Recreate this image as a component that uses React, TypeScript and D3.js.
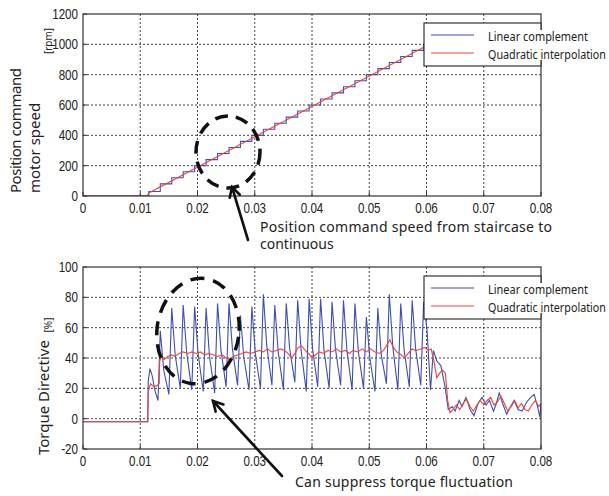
import React from 'react';
import * as d3 from 'd3';

// time axis (s)
const timeTicks = [0, 0.01, 0.02, 0.03, 0.04, 0.05, 0.06, 0.07, 0.08];
const timeLabels = ['0', '0.01', '0.02', '0.03', '0.04', '0.05', '0.06', '0.07', '0.08'];
const speedTicks = [0, 200, 400, 600, 800, 1000, 1200];
const torqueTicks = [-20, 0, 20, 40, 60, 80, 100];
const seriesNames = ['Linear complement', 'Quadratic interpolation'];

// speed command, linear complement = staircase (held value from each time)
const speedStepT = [0, 0.0115, 0.0135, 0.0155, 0.0175, 0.0195, 0.0215, 0.0235, 0.0255, 0.0275, 0.0295,
  0.0315, 0.0335, 0.0355, 0.0375, 0.0395, 0.0415, 0.0435, 0.0455, 0.0475, 0.0495,
  0.0515, 0.0535, 0.0555, 0.0575, 0.0595, 0.0615, 0.08];
const speedStepV = [0, 30, 80, 120, 160, 200, 240, 280, 320, 360, 400,
  440, 480, 520, 560, 600, 640, 680, 720, 760, 800,
  840, 880, 920, 960, 1000, 1000, 1000];

// speed command, quadratic interpolation = continuous ramp
const speedQuadT = [0, 0.0112, 0.0115, 0.0605, 0.08];
const speedQuadV = [0, 0, 20, 1000, 1000];

// torque directive [%], linear complement
const torqueLinear: [number, number][] = [
  [0, -2], [0.0113, -2], [0.0114, 25], [0.0117, 33], [0.0121, 28], [0.0126, 18], [0.0131, 12],
  [0.0135, 58], [0.0141, 32], [0.015, 16],
  [0.0155, 73], [0.0161, 42], [0.017, 20],
  [0.0175, 75], [0.0181, 44], [0.019, 19],
  [0.0195, 74], [0.0201, 43], [0.021, 18],
  [0.0215, 73], [0.0221, 41], [0.023, 17],
  [0.0235, 76], [0.0241, 45], [0.025, 21],
  [0.0255, 76], [0.0261, 46], [0.027, 22],
  [0.0275, 68], [0.0281, 40], [0.029, 19],
  [0.0295, 74], [0.0301, 43], [0.031, 20],
  [0.0315, 82], [0.0321, 48], [0.033, 22],
  [0.0335, 75], [0.0341, 44], [0.035, 19],
  [0.0355, 76], [0.0361, 46], [0.037, 24],
  [0.0375, 78], [0.0381, 45], [0.039, 18],
  [0.0395, 79], [0.0401, 46], [0.041, 21],
  [0.0415, 79], [0.0421, 45], [0.043, 20],
  [0.0435, 77], [0.0441, 46], [0.045, 22],
  [0.0455, 78], [0.0461, 45], [0.047, 19],
  [0.0475, 76], [0.0481, 44], [0.049, 20],
  [0.0495, 67], [0.0501, 40], [0.051, 18],
  [0.0515, 73], [0.0521, 42], [0.053, 23],
  [0.0535, 82], [0.0541, 48], [0.055, 19],
  [0.0555, 76], [0.0561, 45], [0.057, 21],
  [0.0575, 78], [0.0581, 46], [0.059, 22],
  [0.0595, 77], [0.0601, 58], [0.0607, 19], [0.0612, 45], [0.0618, 38], [0.0625, 35],
  [0.0632, 22], [0.0638, 6], [0.0645, 8], [0.065, 5], [0.0657, 12], [0.0662, 8], [0.0669, 14],
  [0.0676, 6], [0.0683, 2], [0.069, 10], [0.0697, 14], [0.0704, 9], [0.071, 12], [0.0717, 5],
  [0.0722, 10], [0.0727, 17], [0.0733, 10], [0.074, 3], [0.0747, 8], [0.0753, 12], [0.076, 6],
  [0.0767, 5], [0.0775, 11], [0.0782, 14], [0.0788, 16], [0.0794, 8], [0.0798, 1], [0.08, 10],
];

// torque directive [%], quadratic interpolation
const torqueQuad: [number, number][] = [
  [0, -2], [0.0113, -2], [0.0114, 18], [0.0118, 23], [0.0124, 21], [0.013, 22], [0.0133, 23],
  [0.0134, 38], [0.0137, 41], [0.0142, 39], [0.0148, 41], [0.0155, 42], [0.016, 41], [0.0168, 43],
  [0.0175, 44], [0.0183, 43], [0.019, 44], [0.0198, 43], [0.0205, 44], [0.0213, 42], [0.022, 43],
  [0.0228, 42], [0.0235, 41], [0.0243, 42], [0.025, 40], [0.0256, 39], [0.0262, 41], [0.027, 42],
  [0.0278, 43], [0.0285, 44], [0.0293, 43], [0.03, 44], [0.0308, 45], [0.0315, 44], [0.0322, 46],
  [0.033, 44], [0.0338, 45], [0.0345, 46], [0.0352, 45], [0.0358, 43], [0.0364, 40], [0.037, 43],
  [0.0376, 47], [0.0382, 48], [0.0388, 45], [0.0394, 43], [0.04, 40], [0.0406, 42], [0.0413, 44],
  [0.042, 43], [0.0428, 45], [0.0435, 44], [0.0443, 46], [0.045, 44], [0.0458, 45], [0.0465, 43],
  [0.0472, 45], [0.048, 44], [0.0488, 46], [0.0495, 44], [0.0502, 46], [0.051, 44], [0.0518, 43],
  [0.0525, 45], [0.053, 48], [0.0536, 52], [0.0542, 47], [0.0548, 44], [0.0556, 42], [0.0562, 40],
  [0.0568, 43], [0.0575, 46], [0.0582, 45], [0.059, 46], [0.0597, 47], [0.0603, 45], [0.0608, 46],
  [0.0613, 38], [0.0618, 27], [0.0623, 30], [0.0628, 32], [0.0633, 30], [0.0637, 12], [0.0641, 4],
  [0.0646, 6], [0.0652, 9], [0.0658, 6], [0.0664, 10], [0.067, 13], [0.0676, 8], [0.0682, 5],
  [0.0688, 9], [0.0694, 12], [0.07, 9], [0.0706, 12], [0.0712, 14], [0.0718, 9], [0.0724, 11],
  [0.073, 15], [0.0736, 10], [0.0742, 5], [0.0748, 8], [0.0754, 12], [0.076, 7], [0.0766, 10],
  [0.0772, 6], [0.0778, 5], [0.0784, 9], [0.079, 12], [0.0796, 8], [0.08, 10],
];

const BLUE = '#3e4fae';
const RED = '#e8463c';
const GRID = '#444';
const TICK_FONT = '"Liberation Sans", Arial, sans-serif';
const TEXT_FONT = '"Noto Sans", "Open Sans", sans-serif';

const LEFT = 83;
const RIGHT = 541;

type Pt = [number, number];

// narrow tick label (the original uses a condensed face)
const TickText = ({ x, y, anchor, children }: { x: number; y: number; anchor: string; children: React.ReactNode }) => (
  <text transform={`translate(${x},${y}) scale(0.8,1)`} textAnchor={anchor}
    fontFamily={TICK_FONT} fontSize={14.5} fill="#222">{children}</text>
);

const Panel = ({ id, top, bottom, yDomain, yTicks, blue, red, blueStep, legendTop }: {
  id: string; top: number; bottom: number; yDomain: [number, number]; yTicks: number[];
  blue: Pt[]; red: Pt[]; blueStep: boolean; legendTop: number;
}) => {
  const x = d3.scaleLinear().domain([0, 0.08]).range([LEFT, RIGHT]);
  const y = d3.scaleLinear().domain(yDomain).range([bottom, top]);
  const line = d3.line<Pt>().x(d => x(d[0])).y(d => y(d[1]));
  const stepLine = d3.line<Pt>().x(d => x(d[0])).y(d => y(d[1])).curve(d3.curveStepAfter);

  const lx = 424, lw = RIGHT - lx, lh = 43;

  return (
    <g>
      <defs>
        <clipPath id={`clip-${id}`}>
          <rect x={LEFT} y={top} width={RIGHT - LEFT} height={bottom - top} />
        </clipPath>
      </defs>
      {/* grid */}
      {timeTicks.slice(1, -1).map(t => (
        <line key={`gx${t}`} x1={x(t)} x2={x(t)} y1={top} y2={bottom}
          stroke={GRID} strokeWidth={1} strokeDasharray="2,2" />
      ))}
      {yTicks.slice(1, -1).map(v => (
        <line key={`gy${v}`} x1={LEFT} x2={RIGHT} y1={y(v)} y2={y(v)}
          stroke={GRID} strokeWidth={1} strokeDasharray="2,2" />
      ))}
      {/* series */}
      <g clipPath={`url(#clip-${id})`}>
        <path d={(blueStep ? stepLine : line)(blue) || ''} fill="none" stroke={BLUE} strokeWidth={1.1} />
        <path d={line(red) || ''} fill="none" stroke={RED} strokeWidth={1.1} />
      </g>
      {/* frame + ticks */}
      <rect x={LEFT} y={top} width={RIGHT - LEFT} height={bottom - top} fill="none" stroke="#333" strokeWidth={1.2} />
      {timeTicks.map(t => (
        <line key={`tx${t}`} x1={x(t)} x2={x(t)} y1={bottom} y2={bottom - 4} stroke="#333" />
      ))}
      {yTicks.map(v => (
        <line key={`ty${v}`} x1={LEFT} x2={LEFT + 4} y1={y(v)} y2={y(v)} stroke="#333" />
      ))}
      {timeTicks.map((t, i) => (
        <TickText key={`lx${t}`} x={x(t)} y={bottom + 17} anchor="middle">{timeLabels[i]}</TickText>
      ))}
      {yTicks.map(v => (
        <TickText key={`ly${v}`} x={LEFT - 5} y={y(v) + 5} anchor="end">{v}</TickText>
      ))}
      {/* legend */}
      <rect x={lx} y={legendTop} width={lw} height={lh} fill="#fff" stroke="#222" strokeWidth={1.1} />
      <rect x={486} y={legendTop + 7} width={123} height={30} fill="#fff" />
      {seriesNames.map((name, i) => {
        const ly = legendTop + 12 + i * 18;
        return (
          <g key={name}>
            <line x1={431} x2={474} y1={ly} y2={ly} stroke={i === 0 ? BLUE : RED} strokeWidth={1.2} />
            <text x={488} y={ly + 6} fontFamily={TEXT_FONT} fontSize={12} fill="#222"
              textLength={i === 0 ? 100 : 118} lengthAdjust="spacingAndGlyphs">{name}</text>
          </g>
        );
      })}
    </g>
  );
};

const Arrow = ({ tip, tail }: { tip: Pt; tail: Pt }) => {
  const ang = Math.atan2(tail[1] - tip[1], tail[0] - tip[0]);
  const len = 11, spread = 0.5;
  const a = [tip[0] + len * Math.cos(ang - spread), tip[1] + len * Math.sin(ang - spread)];
  const b = [tip[0] + len * Math.cos(ang + spread), tip[1] + len * Math.sin(ang + spread)];
  return (
    <g stroke="#111" strokeWidth={2.6} fill="none" strokeLinecap="round">
      <line x1={tail[0]} y1={tail[1]} x2={tip[0]} y2={tip[1]} />
      <polyline points={`${a[0]},${a[1]} ${tip[0]},${tip[1]} ${b[0]},${b[1]}`} />
    </g>
  );
};

export default function App() {
  return (
    <svg width={609} height={496} style={{ position: 'absolute', left: 0, top: 0, background: '#fff' }}>
      <rect width={609} height={496} fill="#fff" />
      <Panel id="speed" top={14} bottom={196} yDomain={[0, 1200]} yTicks={speedTicks}
        blue={speedStepT.map((t, i) => [t, speedStepV[i]] as Pt)}
        red={speedQuadT.map((t, i) => [t, speedQuadV[i]] as Pt)}
        blueStep={true} legendTop={23} />
      <Panel id="torque" top={267} bottom={449} yDomain={[-20, 100]} yTicks={torqueTicks}
        blue={torqueLinear} red={torqueQuad} blueStep={false} legendTop={276} />

      {/* y axis titles */}
      <text transform="translate(21,193) rotate(-90)" fontFamily={TEXT_FONT} fontSize={15} fill="#222" textLength={125}>Position command</text>
      <text transform="translate(40,193) rotate(-90)" fontFamily={TEXT_FONT} fontSize={15} fill="#222">motor speed</text>
      <text transform="translate(52,41) rotate(-90)" textAnchor="middle" fontFamily={TEXT_FONT} fontSize={10} fill="#222">[rpm]</text>
      <text transform="translate(49,455) rotate(-90)" fontFamily={TEXT_FONT} fontSize={15} fill="#222">Torque Directive</text>
      <text transform="translate(52,325) rotate(-90)" textAnchor="middle" fontFamily={TEXT_FONT} fontSize={10} fill="#222">[%]</text>

      {/* annotations */}
      <ellipse cx={228} cy={152} rx={32} ry={36} fill="none" stroke="#111" strokeWidth={3.5} strokeDasharray="13,8" />
      <Arrow tip={[232, 187]} tail={[248, 240]} />
      <text x={260} y={232} fontFamily={TEXT_FONT} fontSize={14} fill="#222" textLength={292}>Position command speed from staircase to</text>
      <text x={260} y={249} fontFamily={TEXT_FONT} fontSize={14} fill="#222">continuous</text>

      <ellipse cx={198} cy={331} rx={41} ry={53} fill="none" stroke="#111" strokeWidth={3.5} strokeDasharray="14,9"
        transform="rotate(8,198,331)" />
      <Arrow tip={[213, 401]} tail={[282, 476]} />
      <text x={295} y={487} fontFamily={TEXT_FONT} fontSize={14} fill="#222" textLength={218}>Can suppress torque fluctuation</text>
    </svg>
  );
}
